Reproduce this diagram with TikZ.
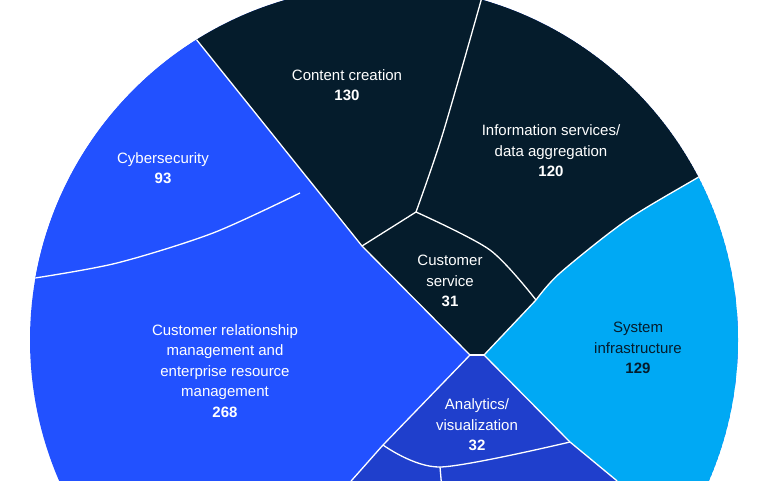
\documentclass[tikz,border=0pt]{standalone}
\usepackage{fontspec}
\setmainfont{Liberation Sans}
\definecolor{navy}{HTML}{051C2C}
\definecolor{mblue}{HTML}{2251FF}
\definecolor{lblue}{HTML}{00A9F4}
\definecolor{ablue}{HTML}{1F3FCC}
\begin{document}
\begin{tikzpicture}[x=1pt,y=-1pt,
  lab/.style={align=center,font=\fontsize{15}{20.5}\selectfont,text=white,inner sep=0pt},
  sep/.style={white,line width=1.3pt}]
\useasboundingbox (0,0) rectangle (767,480);
\clip (0,0) rectangle (767,480);
\begin{scope}
\clip (384,340) circle (354);
\fill[mblue] (384,340) circle (354);
% cyber
\fill[mblue] (-20,280) -- plot[smooth] coordinates {(35,278) (117,263) (213,233) (300,193)} -- (196,39) -- (150,-18) -- (-20,-20) -- cycle;
% dark
\fill[navy] (150,-18) -- (196,39) -- (362,246) -- (470,355) -- (484,355) -- (536,300)
  -- plot[smooth] coordinates {(536,300) (560,273) (627,220) (702,175) (760,140)} -- (800,140) -- (800,-30) -- (150,-30) -- cycle;
% light blue
\fill[lblue] (484,355) -- plot[smooth] coordinates {(536,300) (560,273) (627,220) (702,175) (760,140)} -- (800,140) -- (800,520) -- (650,520) -- (616,480) -- (570,442) -- cycle;
% analytics
\fill[ablue] (470,355) -- (484,355) -- (570,442) -- (616,480) -- (650,520) -- (320,520) -- (352,480) -- (383,445) -- cycle;
% separators
\draw[sep] plot[smooth] coordinates {(35,278) (117,263) (213,233) (300,193)};
\draw[sep] (150,-18) -- (196,39) -- (362,246) -- (470,355);
\draw[sep] (470,355) -- (484,355);
\draw[sep] plot[smooth] coordinates {(484,-10) (443,133) (416,212)};
\draw[sep] (362,246) -- (416,212);
\draw[sep] plot[smooth] coordinates {(416,212) (490,250) (536,300)};
\draw[sep] (536,300) -- (484,355);
\draw[sep] plot[smooth] coordinates {(536,300) (560,273) (627,220) (702,175) (760,140)};
\draw[sep] (470,355) -- (383,445) -- (352,480) -- (320,520);
\draw[sep] (484,355) -- (570,442) -- (616,480) -- (650,520);
\draw[sep] plot[smooth] coordinates {(383,445) (440,467) (570,442)};
\draw[sep] (440,467) -- (442,490);
\end{scope}
\node[lab] (cc) at (347,85) {Content creation\\\textbf{130}};
\node[lab] (cy) at (163,168) {Cybersecurity\\\textbf{93}};
\node[lab] (is) at (551,151) {Information services/\\data aggregation\\\textbf{120}};
\node[lab] (cs) at (450,281) {Customer\\service\\\textbf{31}};
\node[lab] (crm) at (225,371) {Customer relationship\\management and\\enterprise resource\\management\\\textbf{268}};
\node[lab,text=navy] (si) at (638,348) {System\\infrastructure\\\textbf{129}};
\node[lab] (an) at (477,425) {Analytics/\\visualization\\\textbf{32}};
\end{tikzpicture}
\end{document}
